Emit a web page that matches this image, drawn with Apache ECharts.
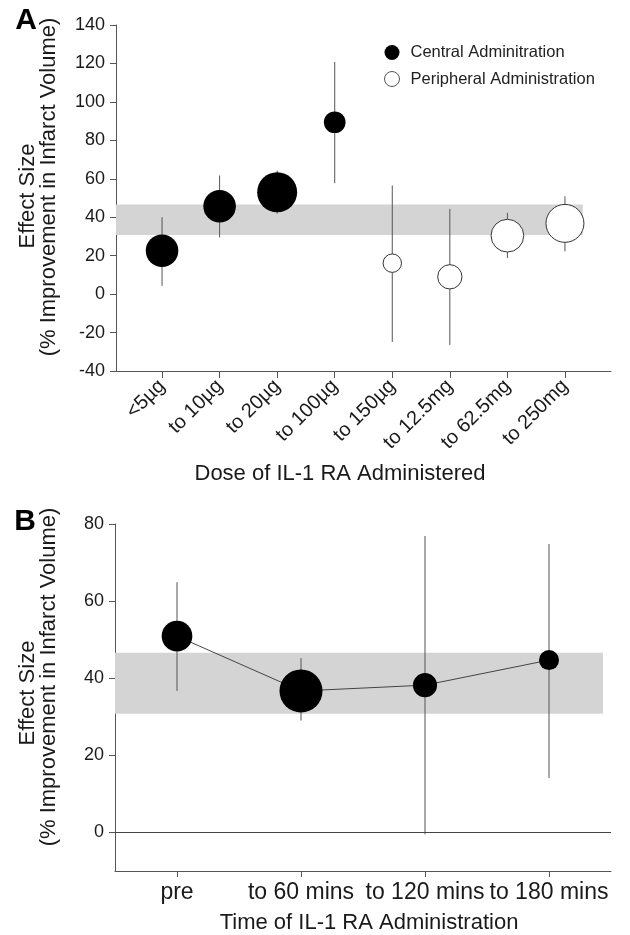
<!DOCTYPE html>
<html><head><meta charset="utf-8">
<script src="https://cdn.jsdelivr.net/npm/echarts@6/dist/echarts.min.js"></script>
<style>html,body{margin:0;padding:0;background:#fff}#c{width:630px;height:935px}</style>
</head><body><div id="c"></div>
<script>
// ---- Panel A: dose ----
const doseCategories = ['<5µg','to 10µg','to 20µg','to 100µg','to 150µg','to 12.5mg','to 62.5mg','to 250mg'];
const doseRoute = ['central','central','central','central','peripheral','peripheral','peripheral','peripheral'];
const doseEffect = [22.6, 45.7, 53.0, 89.4, 16.1, 9.0, 30.4, 36.8];
const doseLow = [4.3, 29.5, 41.8, 57.7, -24.9, -26.5, 18.8, 22.2];
const doseHigh = [40.0, 61.7, 64.3, 120.8, 56.5, 44.3, 42.3, 50.9];
const doseWeight = [10.6, 10.6, 16.0, 4.7, 3.4, 5.9, 10.7, 14.4];
const doseTicks = [-40, -20, 0, 20, 40, 60, 80, 100, 120, 140];

// ---- Panel B: time ----
const timeCategories = ['pre','to 60 mins','to 120 mins','to 180 mins'];
const timeEffect = [50.9, 36.7, 38.2, 44.7];
const timeLow = [36.7, 29.0, -0.5, 14.1];
const timeHigh = [64.9, 45.2, 76.9, 74.8];
const timeWeight = [9.4, 18.5, 5.8, 4.0];
const timeTicks = [0, 20, 40, 60, 80];

// pooled estimate confidence band
const pooledCI = [30.8, 46.6];

const FONT = '"Liberation Sans", Arial, sans-serif';
const TXT = '#1a1a1a';
const AX = '#555';
const bubble = v => 10 * Math.sqrt(v[2]);

const idxA = doseCategories.map((_, i) => i);
const idxB = timeCategories.map((_, i) => i);

function errRender(params, api) {
  const x = api.value(0), lo = api.value(1), hi = api.value(2);
  const p1 = api.coord([x, lo]), p2 = api.coord([x, hi]);
  return { type: 'line', shape: { x1: p1[0], y1: p1[1], x2: p2[0], y2: p2[1] },
    style: { stroke: '#555', lineWidth: 1 } };
}

const chart = echarts.init(document.getElementById('c'));
chart.setOption({
  backgroundColor: '#fff',
  animation: false,
  textStyle: { fontFamily: FONT },
  grid: [
    { left: 116, right: 19, top: 25, height: 346 },
    { left: 115, right: 19, top: 524, height: 347 }
  ],
  xAxis: [
    { gridIndex: 0, type: 'value', min: -0.8, max: 7.8,
      axisLine: { onZero: false, lineStyle: { color: AX, width: 1 } },
      axisTick: { customValues: idxA, length: 7, lineStyle: { color: AX } },
      axisLabel: { customValues: idxA, rotate: 45, margin: 12, fontSize: 20, color: TXT, fontFamily: FONT,
        formatter: v => doseCategories[Math.round(v)] },
      splitLine: { show: false } },
    { gridIndex: 1, type: 'value', min: -0.5, max: 3.5,
      axisLine: { onZero: false, lineStyle: { color: AX, width: 1 } },
      axisTick: { customValues: idxB, length: 6, lineStyle: { color: AX } },
      axisLabel: { customValues: idxB, margin: 10, fontSize: 23, color: TXT, fontFamily: FONT,
        formatter: v => timeCategories[Math.round(v)] },
      splitLine: { show: false } }
  ],
  yAxis: [
    { gridIndex: 0, type: 'value', min: -40, max: 140,
      axisLine: { show: true, onZero: false, lineStyle: { color: AX, width: 1 } },
      axisTick: { show: true, customValues: doseTicks, length: 6, lineStyle: { color: AX } },
      axisLabel: { customValues: doseTicks, margin: 11, fontSize: 18, color: TXT, fontFamily: FONT },
      splitLine: { show: false } },
    { gridIndex: 1, type: 'value', min: -10, max: 80,
      axisLine: { show: true, onZero: false, lineStyle: { color: AX, width: 1 } },
      axisTick: { show: true, customValues: timeTicks, length: 6, lineStyle: { color: AX } },
      axisLabel: { customValues: timeTicks, margin: 11, fontSize: 18, color: TXT, fontFamily: FONT },
      splitLine: { show: false } }
  ],
  legend: {
    left: 379, top: 39, orient: 'vertical', itemWidth: 15, itemHeight: 15, itemGap: 9.5,
    icon: 'circle', selectedMode: false,
    textStyle: { fontSize: 16.5, color: '#222', fontFamily: FONT, padding: [0, 0, 0, 6] },
    data: [
      { name: 'Central Adminitration', itemStyle: { color: '#000', borderWidth: 0 } },
      { name: 'Peripheral Administration', itemStyle: { color: '#fff', borderColor: '#555', borderWidth: 1 } }
    ]
  },
  series: [
    { type: 'line', xAxisIndex: 0, yAxisIndex: 0, data: [], z: 1, silent: true,
      markArea: { silent: true, itemStyle: { color: '#d4d4d4' },
        data: [[{ xAxis: -0.8, yAxis: pooledCI[0] }, { xAxis: 7.31, yAxis: pooledCI[1] }]] } },
    { type: 'custom', xAxisIndex: 0, yAxisIndex: 0, z: 2, renderItem: errRender,
      encode: { x: 0, y: [1, 2] },
      data: idxA.map(i => [i, doseLow[i], doseHigh[i]]) },
    { name: 'Central Adminitration', type: 'scatter', xAxisIndex: 0, yAxisIndex: 0, z: 3,
      symbolSize: bubble, itemStyle: { color: '#000', opacity: 1 },
      data: idxA.filter(i => doseRoute[i] === 'central').map(i => [i, doseEffect[i], doseWeight[i]]) },
    { name: 'Peripheral Administration', type: 'scatter', xAxisIndex: 0, yAxisIndex: 0, z: 3,
      symbolSize: bubble, itemStyle: { color: '#fff', borderColor: '#333', borderWidth: 1, opacity: 1 },
      data: idxA.filter(i => doseRoute[i] === 'peripheral').map(i => [i, doseEffect[i], doseWeight[i]]) },

    { type: 'line', xAxisIndex: 1, yAxisIndex: 1, data: [], z: 1, silent: true,
      markArea: { silent: true, itemStyle: { color: '#d4d4d4' },
        data: [[{ xAxis: -0.5, yAxis: pooledCI[0] }, { xAxis: 3.435, yAxis: pooledCI[1] }]] },
      markLine: { silent: true, symbol: 'none', label: { show: false },
        lineStyle: { color: '#444', type: 'solid', width: 1 }, data: [{ yAxis: 0 }] } },
    { type: 'custom', xAxisIndex: 1, yAxisIndex: 1, z: 2, renderItem: errRender,
      encode: { x: 0, y: [1, 2] },
      data: idxB.map(i => [i, timeLow[i], timeHigh[i]]) },
    { type: 'line', xAxisIndex: 1, yAxisIndex: 1, z: 2, symbol: 'none',
      lineStyle: { color: '#444', width: 1 },
      data: idxB.map(i => [i, timeEffect[i]]) },
    { type: 'scatter', xAxisIndex: 1, yAxisIndex: 1, z: 3,
      symbolSize: bubble, itemStyle: { color: '#000', opacity: 1 },
      data: idxB.map(i => [i, timeEffect[i], timeWeight[i]]) }
  ],
  graphic: [
    { type: 'text', x: 26, y: 21, style: { text: 'A', font: 'bold 30px ' + FONT, fill: '#000', align: 'center', verticalAlign: 'middle' } },
    { type: 'text', x: 25, y: 522, style: { text: 'B', font: 'bold 30px ' + FONT, fill: '#000', align: 'center', verticalAlign: 'middle' } },
    { type: 'text', x: 28, y: 196, rotation: Math.PI / 2, style: { text: 'Effect Size', font: '22px ' + FONT, fill: TXT, align: 'center', verticalAlign: 'middle' } },
    { type: 'text', x: 49, y: 187, rotation: Math.PI / 2, style: { text: '(% Improvement in Infarct Volume)', font: '22px ' + FONT, fill: TXT, align: 'center', verticalAlign: 'middle' } },
    { type: 'text', x: 28, y: 693, rotation: Math.PI / 2, style: { text: 'Effect Size', font: '22px ' + FONT, fill: TXT, align: 'center', verticalAlign: 'middle' } },
    { type: 'text', x: 49, y: 677, rotation: Math.PI / 2, style: { text: '(% Improvement in Infarct Volume)', font: '22px ' + FONT, fill: TXT, align: 'center', verticalAlign: 'middle' } },
    { type: 'text', x: 340, y: 474, style: { text: 'Dose of IL-1 RA Administered', font: '22px ' + FONT, fill: TXT, align: 'center', verticalAlign: 'middle' } },
    { type: 'text', x: 369, y: 923, style: { text: 'Time of IL-1 RA Administration', font: '22px ' + FONT, fill: TXT, align: 'center', verticalAlign: 'middle' } }
  ]
});
</script>
</body></html>
